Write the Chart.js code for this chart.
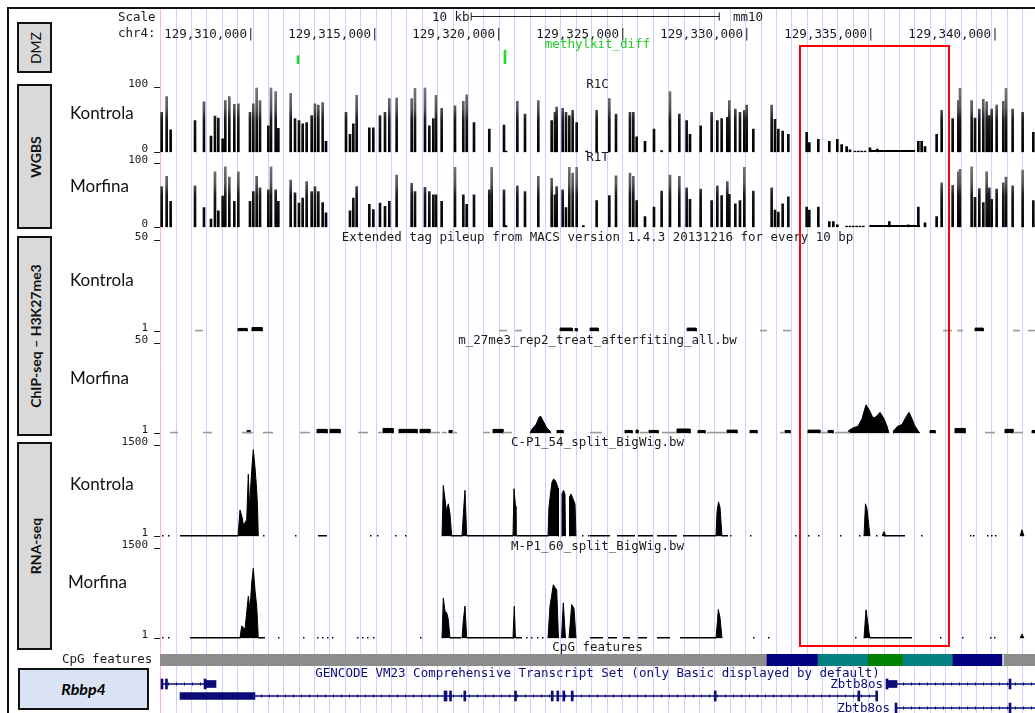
<!DOCTYPE html>
<html>
<head>
<meta charset="utf-8">
<script src="https://cdn.jsdelivr.net/npm/chart.js@4.4.1/dist/chart.umd.min.js"></script>
<style>
body { margin: 0; background: #fff; }
#page { position: relative; width: 1035px; height: 713px; overflow: hidden; background: #fff; }
canvas { position: absolute; left: 0; }
.t { position: absolute; font-family: 'DejaVu Sans Mono', monospace; font-size: 12.5px; line-height: 14px; color: #1a1a1a; white-space: nowrap; z-index: 5; }
.ttl { left: 160px; width: 875px; text-align: center; }
.cond { position: absolute; left: 70px; font-family: Lato, sans-serif; font-size: 17px; line-height: 20px; color: #111; z-index: 5; }
.box { position: absolute; left: 17px; width: 35px; box-sizing: border-box; border: 2px solid #111; background: #d9d9d9; z-index: 5; }
.box span { position: absolute; left: 50%; top: 50%; transform: translate(-50%, -50%) rotate(-90deg); font-family: Lato, sans-serif; font-weight: bold; font-size: 14px; white-space: nowrap; color: #111; }
#frame { position: absolute; left: 7px; top: 7px; width: 1100px; height: 800px; border-top: 2px solid #111; border-left: 2px solid #111; z-index: 6; }
#hl { position: absolute; left: 799px; top: 45px; width: 151px; height: 602px; box-sizing: border-box; border: 2px solid #f00; z-index: 7; }
#gene { position: absolute; left: 18px; top: 668px; width: 131px; height: 42px; box-sizing: border-box; border: 2px solid #111; background: #dae3f3; font-family: Lato, sans-serif; font-weight: bold; font-style: italic; font-size: 16px; line-height: 38px; text-align: center; z-index: 5; }
</style>
</head>
<body>
<div id="page">
  <canvas id="bg"></canvas>
  <canvas id="ruler"></canvas>
  <canvas id="dmz"></canvas>
  <canvas id="r1c"></canvas>
  <canvas id="r1t"></canvas>
  <canvas id="chipK"></canvas>
  <canvas id="chipM"></canvas>
  <canvas id="rnaK"></canvas>
  <canvas id="rnaM"></canvas>
  <canvas id="cpg"></canvas>
  <canvas id="genes"></canvas>

  <div id="frame"></div>
  <div class="box" style="top:22px;height:51px"><span style="font-weight:normal">DMZ</span></div>
  <div class="box" style="top:84px;height:145px"><span>WGBS</span></div>
  <div class="box" style="top:236px;height:200px"><span>ChIP-seq – H3K27me3</span></div>
  <div class="box" style="top:442px;height:208px"><span>RNA-seq</span></div>
  <div id="gene">Rbbp4</div>

  <div class="cond" style="top:103px">Kontrola</div>
  <div class="cond" style="top:176px">Morfina</div>
  <div class="cond" style="top:270px">Kontrola</div>
  <div class="cond" style="top:368px">Morfina</div>
  <div class="cond" style="top:474px">Kontrola</div>
  <div class="cond" style="top:572px;left:68px">Morfina</div>

  <div class="t" style="left:118px;top:10px">Scale</div>
  <div class="t" style="left:118px;top:26px">chr4:</div>
  <div class="t" style="left:432px;top:10px">10 kb</div>
  <div class="t" style="left:733px;top:10px">mm10</div>
  <div class="t ttl" style="top:37px;color:#22cc22">methylkit_diff</div>
  <div class="t ttl" style="top:77px">R1C</div>
  <div class="t ttl" style="top:150px">R1T</div>
  <div class="t ttl" style="top:230px">Extended tag pileup from MACS version 1.4.3 20131216 for every 10 bp</div>
  <div class="t ttl" style="top:333px">m_27me3_rep2_treat_afterfiting_all.bw</div>
  <div class="t ttl" style="top:435px">C-P1_54_split_BigWig.bw</div>
  <div class="t ttl" style="top:539px">M-P1_60_split_BigWig.bw</div>
  <div class="t ttl" style="top:640px">CpG features</div>
  <div class="t" style="left:62px;top:652px">CpG features</div>
  <div class="t ttl" style="top:666px;color:#0c0c78">GENCODE VM23 Comprehensive Transcript Set (only Basic displayed by default)</div>
  <div class="t" style="right:152px;top:677px;color:#0c0c78">Zbtb8os</div>
  <div class="t" style="right:145px;top:701px;color:#0c0c78">Zbtb8os</div>
  <div id="hl"></div>
</div>
<script>
// view window chr4:129,306,193-129,341,263 (mm10)
const X_MIN = 129306193;
const X_MAX = 129341263;
const GUIDE_START = 129306836;
const GUIDE_STEP = 617;

const rulerTicks = [129310000, 129315000, 129320000, 129325000, 129330000, 129335000, 129340000];
const scaleBar = [129318738, 129328738]; // 10 kb

// methylkit_diff (DMZ)
const dmzPos = [129311724, 129320021];
const dmzScore = [0.55, 0.92];

// WGBS - methylation % per CpG
const cpgPos = [
  129306260, 129306460, 129306620, 129307596, 129307956, 129308237, 129308397, 129308531, 129308704, 129308811,
  129308972, 129309172, 129309332, 129309800, 129309934, 129310067, 129310201, 129310535, 129310642, 129310829,
  129310936, 129311430, 129311604, 129311764, 129311911, 129312071, 129312272, 129312405, 129312539, 129312712,
  129312846, 129313648, 129313808, 129313942, 129314075, 129314583, 129314743, 129315010, 129315211, 129315384,
  129315678, 129316280, 129316413, 129316814, 129316988, 129317148, 129317255, 129317482, 129318016, 129318350,
  129318484, 129318778, 129319392, 129319486, 129319980, 129320060, 129320515, 129320822, 129321356, 129321891,
  129322024, 129322091, 129322332, 129322465, 129322599, 129322732, 129322893, 129323160, 129323294, 129323694,
  129324202, 129324469, 129325030, 129325164, 129325297, 129325631, 129325992, 129326299, 129326633, 129327007,
  129327301, 129327435, 129327863, 129328303, 129328531, 129328704, 129328931, 129329011, 129329252, 129329439,
  129329613, 129329706, 129329973, 129330708, 129330842, 129330975, 129331149, 129331376, 129332111, 129332218,
  129332579, 129333019, 129333180, 129333340, 129333514, 129333714, 129333848, 129333981, 129334048, 129334115,
  129334182, 129334248, 129334315, 129334382, 129334449, 129334649, 129334943, 129335424, 129336186, 129336587,
  129336720, 129336854, 129337321, 129337522, 129337963, 129338190, 129338257, 129338724, 129338858, 129339031,
  129339192, 129339325, 129339432, 129339526, 129339726, 129339993, 129340100, 129340367, 129340768, 129341196
];
const r1cMeth = [
  62, 86, 35, 49, 78, 25, 56, 53, 21, 80,
  86, 74, 75, 62, 75, 100, 80, 41, 100, 94,
  37, 91, 52, 49, 44, 46, 57, 75, 73, 77,
  17, 62, 28, 44, 88, 38, 38, 57, 62, 83,
  84, 83, 99, 100, 41, 52, 88, 68, 72, 79,
  89, 46, 36, null, 42, 2, 79, 59, 80, 49,
  62, 70, 68, 62, 57, 65, 46, null, 2, 65,
  83, 59, 62, 62, 24, 17, 36, 3, 94, 59,
  49, 28, 41, 62, 49, 52, 54, 80, 67, 62,
  65, 73, 36, 73, 51, 36, 33, 28, 31, 15,
  20, 17, null, 20, 12, 9, 4, null, 2, null,
  2, null, 2, null, 2, 7, 5, null, null, 17,
  17, 9, 28, 65, 52, 80, 99, 80, 53, 67,
  82, 78, 57, 67, 73, 79, 99, 67, 62, 31
];
const r1tMeth = [
  64, 80, 41, 65, 31, 13, 87, 26, 49, 95,
  79, 41, 87, 41, 56, 80, 62, 59, 95, 59,
  41, 74, 54, 38, 46, 72, 56, 64, 56, 39,
  23, null, 26, 46, 64, 36, 28, 38, 33, 41,
  82, 69, 56, 63, 56, 51, 51, 41, 94, 51,
  36, 51, 59, 94, 59, 3, 65, 56, 80, 77,
  51, 64, 59, 31, 94, 85, 94, 3, null, 42,
  50, 81, 85, 80, 42, 17, 32, 57, 82, 80,
  62, 44, 60, 42, 65, 50, 72, 52, 37, 42,
  94, null, 57, 62, 27, 24, 37, 48, 32, 27,
  32, 9, 9, 4, null, 2, 2, 2, null, 2,
  null, 2, null, 2, null, null, null, 9, 4, 32,
  null, 7, 17, 70, 66, 87, 91, 95, 47, 61,
  39, 87, 62, 44, 60, 70, 79, 65, 90, 42
];
const r1cFlat = [[129334622, 129336453]];
const r1tFlat = [[129334622, 129336653]];

// ChIP-seq H3K27me3 pileup: [start, end] low, [start, end, value] blocks, peak profiles
const chipKLow = [[129307600, 129307920], [129319780, 129320100], [129320420, 129320700], [129330240, 129330520],
  [129331160, 129331480], [129337580, 129337940], [129338140, 129338380], [129340380, 129340660], [129340980, 129341260]];
const chipKBlocks = [[129309320, 129309680, 2.6], [129309880, 129310280, 3.1], [129322230, 129322710, 2.8],
  [129322830, 129322910, 2.6], [129323430, 129323750, 2.8], [129327320, 129327680, 2.8], [129338860, 129339180, 2.8]];

const chipMLow = [[129306594, 129306914], [129307916, 129308277], [129309480, 129309920], [129310321, 129310722],
  [129311804, 129312205], [129314129, 129314530], [129314930, 129315131], [129317015, 129317415], [129317495, 129317696],
  [129317896, 129318097], [129319139, 129319419], [129319940, 129320301], [129323427, 129323908], [129325431, 129325752],
  [129326313, 129326914], [129328117, 129328918], [129331043, 129331243], [129332646, 129332966], [129333247, 129333848],
  [129339259, 129339660], [129340381, 129340782]];
const chipMBlocks = [[129309680, 129309800, 2.6], [129312486, 129312886, 3.2], [129313007, 129313407, 3.2],
  [129315131, 129315532, 3.7], [129315772, 129316494, 3.2], [129316614, 129317015, 3.2], [129317776, 129317896, 2.6],
  [129319540, 129319940, 3.2], [129322105, 129322345, 2.6], [129324830, 129325111, 2.6], [129325271, 129325351, 2.8],
  [129325792, 129326153, 2.6], [129326914, 129327435, 3.4], [129327756, 129328037, 2.6], [129328918, 129329319, 2.8],
  [129329840, 129330121, 2.6], [129331243, 129331443, 2.6], [129332165, 129332646, 2.8], [129332966, 129333167, 2.6],
  [129337055, 129337255, 2.6], [129338057, 129338457, 3.7], [129340061, 129340381, 3.2], [129341143, 129341263, 2.6]];
const chipMPeaks = [
  [[129321023, 1], [129321091, 3.2], [129321263, 5.8], [129321395, 10], [129321452, 10.3], [129321556, 7.6], [129321692, 4.1], [129321824, 2.2], [129321864, 1]],
  [[129333768, 1], [129333788, 2.5], [129333968, 4], [129334169, 4.9], [129334329, 9], [129334489, 16.6], [129334610, 14], [129334770, 9.5],
   [129334890, 10], [129335051, 12.5], [129335211, 9], [129335331, 5], [129335411, 1]],
  [[129335572, 1], [129335592, 2.5], [129335772, 5], [129335932, 5.8], [129336093, 10], [129336213, 12.5], [129336333, 9], [129336453, 5], [129336574, 2.5], [129336654, 1]]
];

// RNA-seq coverage
const rnaKLow = [[129306995, 129309320], [129312526, 129312886], [129317856, 129318297], [129318498, 129320341],
  [129320502, 129321744], [129323427, 129324229], [129324510, 129325231], [129325351, 129325952], [129326113, 129326914],
  [129327155, 129328477], [129328718, 129328958], [129335211, 129336053]];
const rnaKDots = [129306273, 129306514, 129310321, 129311604, 129314610, 129314890, 129315612, 129316013, 129323107, 129323347,
  129329039, 129329840, 129331644, 129332165, 129332566, 129333447, 129334209, 129334890, 129336694, 129338658,
  129338778, 129339339, 129339500, 129339660];
const rnaKPeaks = [
  [[129309320, 1], [129309399, 436], [129309480, 327], [129309532, 192], [129309600, 229], [129309668, 273], [129309732, 1027],
   [129309780, 490], [129309868, 1088], [129309932, 1435], [129310000, 1142], [129310069, 762], [129310101, 490], [129310133, 1]],
  [[129317495, 1], [129317548, 843], [129317616, 620], [129317676, 408], [129317748, 539], [129317816, 376], [129317884, 1]],
  [[129318297, 1], [129318349, 355], [129318417, 762], [129318486, 1]],
  [[129320341, 1], [129320381, 788], [129320441, 500], [129320461, 1]],
  [[129321744, 1], [129321784, 490], [129321844, 702], [129321904, 900], [129321964, 946], [129322025, 930], [129322085, 880], [129322145, 800], [129322165, 1]],
  [[129322285, 1], [129322305, 700], [129322365, 762], [129322425, 700], [129322445, 1]],
  [[129322586, 1], [129322606, 650], [129322666, 702], [129322746, 620], [129322826, 540], [129322866, 1]],
  [[129328477, 1], [129328517, 400], [129328578, 571], [129328638, 480], [129328718, 1]],
  [[129334409, 1], [129334469, 539], [129334530, 450], [129334610, 150], [129334650, 1]],
  [[129335131, 1], [129335211, 80], [129335291, 1]],
  [[129340662, 1], [129340742, 110], [129340822, 1]]
];

const rnaMLow = [[129307395, 129309399], [129310121, 129310401], [129317816, 129318257], [129318498, 129320381],
  [129320461, 129320702], [129323427, 129323948], [129324149, 129324510], [129324750, 129325031], [129325351, 129325712],
  [129326113, 129326634], [129327035, 129328477], [129334650, 129336333]];
const rnaMDots = [129306273, 129306514, 129310922, 129311924, 129312486, 129312686, 129312886, 129313087, 129314089, 129314289,
  129314490, 129314730, 129316614, 129320862, 129321063, 129321303, 129321504, 129329960, 129330562, 129334049,
  129337455, 129338337, 129339459, 129339620];
const rnaMPeaks = [
  [[129309399, 1], [129309468, 210], [129309600, 154], [129309732, 704], [129309800, 484], [129309868, 923], [129309932, 1170],
   [129310000, 808], [129310069, 540], [129310133, 1]],
  [[129317495, 1], [129317548, 676], [129317616, 457], [129317684, 430], [129317748, 319], [129317816, 1]],
  [[129318297, 1], [129318349, 292], [129318417, 540], [129318486, 1]],
  [[129320341, 1], [129320393, 540], [129320441, 1]],
  [[129321744, 1], [129321824, 540], [129321884, 700], [129321956, 896], [129322025, 850], [129322093, 813], [129322165, 1]],
  [[129322285, 1], [129322357, 594], [129322445, 1]],
  [[129322586, 1], [129322694, 566], [129322786, 500], [129322866, 1]],
  [[129328477, 1], [129328537, 300], [129328570, 484], [129328638, 350], [129328718, 1]],
  [[129334409, 1], [129334489, 478], [129334550, 300], [129334610, 100], [129334650, 1]],
  [[129340662, 1], [129340742, 72], [129340822, 1]]
];

// CpG features
const cpgSegs = [[129306193, 129330522], [129330522, 129332566], [129332566, 129334570], [129334570, 129335972],
  [129335972, 129337976], [129337976, 129339940], [129340020, 129341263]];
const cpgColors = ['#8c8c8c', '#000080', '#008080', '#008000', '#008080', '#000080', '#8c8c8c'];

// GENCODE VM23: [row, start, end]
const geneRows = ['row1', 'row2', 'row3'];
const geneIntrons = [['row1', 129306273, 129307997], ['row1', 129335732, 129341263], ['row2', 129310000, 129334918], ['row3', 129335732, 129341263]];
const geneThick = [['row1', 129307997, 129308437], ['row1', 129335331, 129335732], ['row2', 129306995, 129310000]];
const geneExons = [['row1', 129306233, 129306313], ['row1', 129306413, 129306493], ['row1', 129307957, 129308037],
  ['row1', 129335291, 129335371], ['row1', 129340221, 129340301],
  ['row2', 129317576, 129317696], ['row2', 129317796, 129317876], ['row2', 129318369, 129318409], ['row2', 129320401, 129320481],
  ['row2', 129321872, 129321952], ['row2', 129322097, 129322177], ['row2', 129322337, 129322417], ['row2', 129322674, 129322754],
  ['row2', 129328405, 129328485], ['row2', 129334161, 129334241], ['row2', 129334878, 129334918],
  ['row3', 129335652, 129335732], ['row3', 129340221, 129340301]];

const GENE_COLOR = '#0c0c78';
Chart.defaults.font.family = 'DejaVu Sans Mono';

function place(id, top, h) {
  const c = document.getElementById(id);
  c.width = 1035; c.height = h;
  c.style.top = top + 'px';
  c.style.width = '1035px';
  c.style.height = h + 'px';
  return c;
}

function segs(list, y) {
  const out = [];
  list.forEach(s => { out.push({ x: s[0], y: y }, { x: s[1], y: y }, { x: s[1], y: null }); });
  return out;
}
function dots(list, y) {
  return segs(list.map(p => [p, p + 60]), y);
}
function blocks(list, base) {
  const out = [];
  list.forEach(b => {
    out.push({ x: b[0], y: base }, { x: b[0], y: b[2] }, { x: b[1], y: b[2] }, { x: b[1], y: base }, { x: b[1], y: null });
  });
  return out;
}
function peaks(list) {
  const out = [];
  list.forEach(p => {
    p.forEach(q => out.push({ x: q[0], y: q[1] }));
    out.push({ x: p[p.length - 1][0], y: null });
  });
  return out;
}

const noPlugins = { legend: { display: false }, tooltip: { enabled: false } };
const xHidden = { type: 'linear', min: X_MIN, max: X_MAX, offset: false, display: false };

// background: guide lines + left edge
new Chart(place('bg', 0, 713), {
  type: 'line',
  data: { datasets: [] },
  options: {
    responsive: false, animation: false, events: [],
    layout: { padding: { left: 160, top: 9, right: 0, bottom: 0 } },
    plugins: noPlugins,
    scales: {
      x: {
        type: 'linear', min: X_MIN, max: X_MAX, offset: false,
        afterBuildTicks: function (s) {
          const t = [];
          for (let v = GUIDE_START; v <= X_MAX; v += GUIDE_STEP) t.push({ value: v });
          s.ticks = t;
        },
        ticks: { display: false },
        grid: { color: '#cfd0ff', drawTicks: false },
        border: { display: false }
      },
      y: {
        min: 0, max: 1,
        afterFit: function (s) { s.width = 0; },
        ticks: { display: false },
        grid: { display: false },
        border: { display: true, color: '#ffbcbc', width: 1 }
      }
    }
  }
});

// ruler
new Chart(place('ruler', 0, 42), {
  type: 'line',
  data: {
    datasets: [{
      data: [{ x: scaleBar[0], y: 0.5 }, { x: scaleBar[1], y: 0.5 }],
      borderColor: '#222', borderWidth: 1,
      pointStyle: 'line', rotation: 90, pointRadius: 4, pointBorderColor: '#222', pointBorderWidth: 1
    }]
  },
  options: {
    responsive: false, animation: false, events: [],
    layout: { padding: { left: 160, top: 6, right: 0, bottom: 0 } },
    plugins: noPlugins,
    scales: {
      x: {
        type: 'linear', min: X_MIN, max: X_MAX, offset: false, position: 'bottom',
        afterBuildTicks: function (s) { s.ticks = rulerTicks.map(v => ({ value: v })); },
        ticks: {
          autoSkip: false, maxRotation: 0, align: 'end', padding: 0, color: '#1a1a1a',
          font: { family: 'DejaVu Sans Mono', size: 12.5 },
          callback: v => v.toLocaleString('en-US') + '|'
        },
        grid: { display: false, drawTicks: false },
        border: { display: false }
      },
      y: { display: false, min: 0, max: 1 }
    }
  }
});

// DMZ
new Chart(place('dmz', 49, 15), {
  type: 'bar',
  data: {
    datasets: [{
      data: dmzPos.map((p, i) => ({ x: p, y: dmzScore[i] })),
      backgroundColor: '#2ad42a', barThickness: 2
    }]
  },
  options: {
    responsive: false, animation: false, events: [],
    layout: { padding: { left: 160, top: 0, right: 0, bottom: 0 } },
    plugins: noPlugins,
    scales: { x: xHidden, y: { display: false, min: 0, max: 1 } }
  }
});

function track(id, top, bottom, yMin, yMax, type, datasets) {
  const pad = 12;
  const c = place(id, top - pad, bottom - top + 2 * pad);
  return new Chart(c, {
    type: type,
    data: { datasets: datasets },
    options: {
      responsive: false, animation: false, events: [],
      layout: { padding: { top: pad, bottom: pad, left: 0, right: 0 } },
      plugins: noPlugins,
      elements: { point: { radius: 0 }, line: { tension: 0 } },
      scales: {
        x: xHidden,
        y: {
          min: yMin, max: yMax,
          afterFit: function (s) { s.width = 160; },
          afterBuildTicks: function (s) { s.ticks = [{ value: yMin }, { value: yMax }]; },
          ticks: {
            callback: v => String(v), color: '#1a1a1a', padding: 6, labelOffset: -3,
            font: { family: 'DejaVu Sans Mono', size: 11 }
          },
          grid: { drawOnChartArea: false, tickLength: 6, color: '#1a1a1a' },
          border: { display: false }
        }
      }
    }
  });
}

function wgbsFill(ctx) {
  const a = ctx.chart.chartArea;
  if (!a) return '#333';
  const g = ctx.chart.ctx.createLinearGradient(0, a.bottom, 0, a.top);
  g.addColorStop(0, '#000');
  g.addColorStop(0.5, '#181818');
  g.addColorStop(0.68, '#555');
  g.addColorStop(1, '#7a7a7a');
  return g;
}

function wgbsSets(vals, flat) {
  return [
    { type: 'bar', data: cpgPos.map((p, i) => ({ x: p, y: vals[i] })), backgroundColor: wgbsFill, barThickness: 2, grouped: false },
    { type: 'line', data: segs(flat, 2), borderColor: '#000', borderWidth: 2, pointRadius: 0, spanGaps: false }
  ];
}

track('r1c', 87, 153, 0, 100, 'bar', wgbsSets(r1cMeth, r1cFlat));
track('r1t', 163, 228, 0, 100, 'bar', wgbsSets(r1tMeth, r1tFlat));

function fillSet(data) {
  return { data: data, borderColor: '#000', backgroundColor: '#000', borderWidth: 1, fill: 'start', spanGaps: false, pointRadius: 0 };
}
function lowSet(data, color, w) {
  return { data: data, borderColor: color, borderWidth: w, fill: false, spanGaps: false, pointRadius: 0 };
}

track('chipK', 240, 332, 1, 50, 'line', [
  lowSet(segs(chipKLow, 1.3), '#9a9a9a', 2),
  fillSet(blocks(chipKBlocks, 1))
]);
track('chipM', 343, 434, 1, 50, 'line', [
  lowSet(segs(chipMLow, 1.3), '#9a9a9a', 2),
  fillSet(blocks(chipMBlocks, 1)),
  fillSet(peaks(chipMPeaks))
]);
track('rnaK', 445, 537, 1, 1500, 'line', [
  lowSet(segs(rnaKLow, 8), '#000', 2),
  lowSet(dots(rnaKDots, 8), '#000', 2),
  fillSet(peaks(rnaKPeaks))
]);
track('rnaM', 548, 639, 1, 1500, 'line', [
  lowSet(segs(rnaMLow, 8), '#000', 2),
  lowSet(dots(rnaMDots, 8), '#000', 2),
  fillSet(peaks(rnaMPeaks))
]);

// CpG features
new Chart(place('cpg', 654, 12), {
  type: 'bar',
  data: {
    labels: ['cpg'],
    datasets: [{
      data: cpgSegs.map(s => ({ x: [s[0], s[1]], y: 'cpg' })),
      backgroundColor: cpgColors, barThickness: 12, grouped: false
    }]
  },
  options: {
    indexAxis: 'y', responsive: false, animation: false, events: [],
    layout: { padding: { left: 160 } },
    plugins: noPlugins,
    scales: { x: xHidden, y: { display: false } }
  }
});

// GENCODE transcripts
const intronMarks = {
  id: 'intronMarks',
  afterDatasetsDraw(chart) {
    const ctx = chart.ctx;
    ctx.save();
    ctx.strokeStyle = GENE_COLOR;
    ctx.lineWidth = 1;
    chart.getDatasetMeta(0).data.forEach(bar => {
      const x0 = Math.min(bar.x, bar.base), x1 = Math.max(bar.x, bar.base);
      for (let x = x0 + 6; x < x1 - 3; x += 8) {
        ctx.beginPath();
        ctx.moveTo(Math.round(x) + 0.5, bar.y - 1.5);
        ctx.lineTo(Math.round(x) + 0.5, bar.y + 1.5);
        ctx.stroke();
      }
    });
    ctx.restore();
  }
};
const toBars = list => list.map(g => ({ x: [g[1], g[2]], y: g[0] }));
new Chart(place('genes', 678, 36), {
  type: 'bar',
  data: {
    labels: geneRows,
    datasets: [
      { data: toBars(geneIntrons), backgroundColor: GENE_COLOR, barThickness: 1, grouped: false },
      { data: toBars(geneThick), backgroundColor: GENE_COLOR, barThickness: 7, grouped: false },
      { data: toBars(geneExons), backgroundColor: GENE_COLOR, barThickness: 10, grouped: false, minBarLength: 2 }
    ]
  },
  options: {
    indexAxis: 'y', responsive: false, animation: false, events: [],
    layout: { padding: { left: 160 } },
    plugins: noPlugins,
    scales: { x: xHidden, y: { display: false } }
  },
  plugins: [intronMarks]
});
</script>
</body>
</html>
